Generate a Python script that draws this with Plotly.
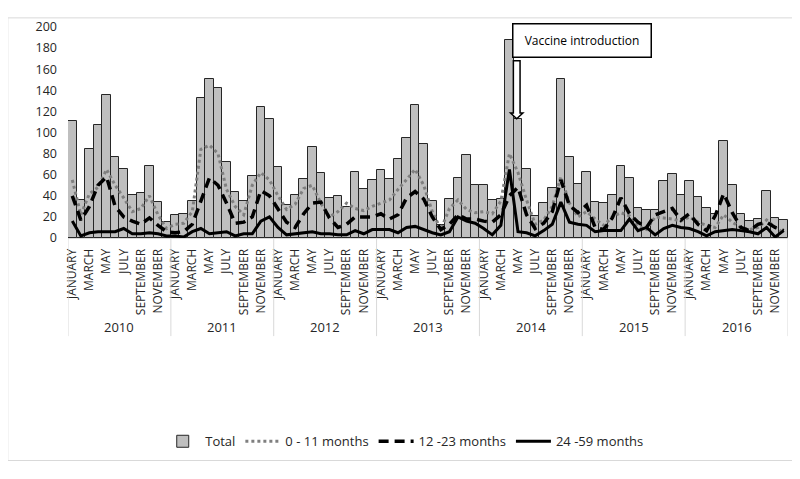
import plotly.graph_objects as go

MONTHS = ["JANUARY", "FEBRUARY", "MARCH", "APRIL", "MAY", "JUNE", "JULY",
          "AUGUST", "SEPTEMBER", "OCTOBER", "NOVEMBER", "DECEMBER"]
YEARS = [2010, 2011, 2012, 2013, 2014, 2015, 2016]

total = [111, 36, 84, 107, 136, 77, 65, 41, 43, 68, 34, 15,
         22, 23, 35, 133, 151, 142, 72, 44, 35, 59, 124, 113,
         67, 31, 41, 56, 86, 62, 38, 40, 29, 63, 46, 55,
         64, 56, 75, 95, 126, 89, 35, 12, 37, 57, 79, 50,
         50, 36, 37, 188, 113, 65, 21, 33, 47, 151, 77, 51,
         63, 34, 33, 41, 68, 57, 28, 27, 27, 54, 61, 41,
         54, 39, 28, 23, 92, 50, 23, 16, 18, 45, 19, 17]

age_0_11 = [55, 22, 42, 48, 65, 50, 38, 25, 28, 40, 22, 9,
            13, 14, 25, 84, 88, 80, 46, 30, 22, 50, 62, 55,
            40, 27, 32, 47, 50, 33, 20, 25, 33, 28, 26, 30,
            33, 36, 46, 55, 65, 50, 25, 8, 28, 36, 27, 24,
            25, 23, 35, 80, 62, 36, 13, 17, 30, 58, 33, 20,
            25, 18, 12, 20, 24, 21, 11, 8, 20, 19, 18, 16,
            20, 15, 12, 10, 22, 15, 10, 8, 10, 17, 10, 5]

age_12_23 = [40, 17, 30, 50, 58, 30, 20, 16, 13, 19, 12, 6,
             5, 6, 13, 35, 57, 50, 33, 14, 15, 20, 45, 40,
             27, 15, 10, 23, 33, 34, 19, 10, 13, 20, 20, 20,
             23, 18, 22, 38, 44, 37, 20, 8, 13, 22, 18, 18,
             16, 15, 22, 40, 48, 22, 9, 14, 25, 55, 31, 24,
             31, 10, 8, 19, 38, 23, 15, 10, 22, 25, 28, 17,
             23, 13, 7, 21, 42, 24, 10, 7, 13, 15, 10, 7]

age_24_59 = [16, 2, 5, 6, 6, 6, 9, 4, 4, 5, 4, 2,
             2, 1, 6, 9, 4, 5, 6, 2, 4, 4, 16, 20,
             10, 3, 4, 5, 6, 4, 4, 3, 3, 7, 4, 8,
             8, 8, 5, 10, 11, 8, 5, 3, 6, 20, 16, 14,
             9, 3, 12, 65, 6, 5, 2, 7, 13, 34, 15, 13,
             12, 6, 7, 7, 7, 18, 7, 10, 3, 9, 12, 10,
             9, 6, 2, 6, 7, 8, 7, 6, 4, 10, 1, 7]

FONT = "Open Sans"
TXT = "#262626"

n = len(YEARS) * 12
x = list(range(n))

fig = go.Figure()
fig.add_trace(go.Bar(x=x, y=total, name="Total", width=1,
                     marker=dict(color="#bfbfbf", line=dict(color="#262626", width=1))))
fig.add_trace(go.Scatter(x=x, y=age_0_11, name="0 - 11 months", mode="lines",
                         line=dict(color="#7f7f7f", width=3, dash="dot")))
fig.add_trace(go.Scatter(x=x, y=age_12_23, name="12 -23 months", mode="lines",
                         line=dict(color="#000000", width=3.5, dash="10px,6px")))
fig.add_trace(go.Scatter(x=x, y=age_24_59, name="24 -59 months", mode="lines",
                         line=dict(color="#000000", width=3)))

tickvals = [i for i in x if i % 2 == 0]
ticktext = [MONTHS[i % 12] for i in tickvals]

shapes = []
annotations = []
# year separators
for k in range(len(YEARS) + 1):
    shapes.append(dict(type="line", xref="x", yref="paper", x0=-0.5 + 12 * k, x1=-0.5 + 12 * k,
                       y0=0, y1=-0.465, line=dict(color="#d9d9d9", width=1)))
for k, yr in enumerate(YEARS):
    annotations.append(dict(xref="x", yref="paper", x=5.5 + 12 * k, y=-0.423, text=str(yr),
                            showarrow=False, font=dict(family=FONT, size=13, color=TXT),
                            xanchor="center", yanchor="middle"))

# outer border
shapes.append(dict(type="rect", xref="paper", yref="paper", x0=-0.0836, x1=1.016,
                   y0=-1.0545, y1=1.0432, line=dict(color="#d9d9d9", width=1)))

# vaccine introduction arrow (hollow block arrow)
im = YEARS.index(2014) * 12 + 4
cx = im - 0.15
tip = total[im]
sw, hw = 0.39, 0.72
top, hb = 168, tip + 5.5
path = (f"M {cx - sw},{top} L {cx + sw},{top} L {cx + sw},{hb} L {cx + hw},{hb} "
        f"L {cx},{tip} L {cx - hw},{hb} L {cx - sw},{hb} Z")
shapes.append(dict(type="path", xref="x", yref="y", path=path,
                   fillcolor="white", line=dict(color="#000000", width=1.5)))

annotations.append(dict(xref="paper", yref="paper", x=(576 - 68) / 712, y=(238 - 32.5) / 220,
                        text="Vaccine introduction", showarrow=False,
                        font=dict(family=FONT, size=12, color="#000000"),
                        bgcolor="white", bordercolor="#000000", borderwidth=1.5,
                        width=133, height=28, borderpad=2,
                        xanchor="center", yanchor="middle"))

# page body has an 8px margin: figure is sized so the plot lands where the reference has it
fig.update_layout(
    width=792, height=464,
    margin=dict(l=60, r=12, t=10, b=234),
    paper_bgcolor="white", plot_bgcolor="white",
    font=dict(family=FONT, color=TXT),
    bargap=0,
    showlegend=True,
    legend=dict(orientation="h", x=0.467, xanchor="center", y=-0.9636, yanchor="middle",
                font=dict(family=FONT, size=13, color=TXT), itemwidth=35,
                traceorder="normal"),
    shapes=shapes,
    annotations=annotations,
)
fig.update_xaxes(range=[-0.5, n - 0.5], tickmode="array", tickvals=tickvals, ticktext=ticktext,
                 tickangle=-90, tickfont=dict(family=FONT, size=12, color=TXT),
                 showgrid=False, zeroline=False, showline=True, linecolor="#d9d9d9",
                 ticks="", ticklabelstandoff=5)
fig.update_yaxes(range=[0, 200], dtick=20, tickfont=dict(family=FONT, size=12.5, color=TXT),
                 showgrid=False, zeroline=False, showline=False, ticks="", ticklabelstandoff=10)

fig.write_html("out.html")
